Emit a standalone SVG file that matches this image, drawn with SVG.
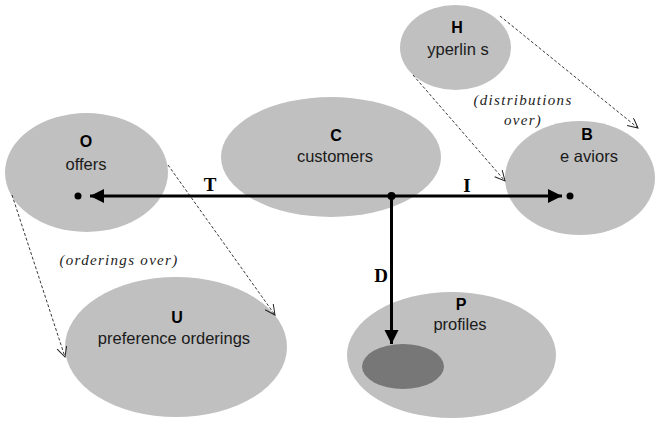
<svg xmlns="http://www.w3.org/2000/svg" width="662" height="424" viewBox="0 0 662 424">
<style>
.set{fill:#c0c0c0}
.t{font-family:"Liberation Sans",Arial,sans-serif;font-size:16.5px;fill:#1a1a1a;text-anchor:middle}
.b{font-family:"Liberation Sans",Arial,sans-serif;font-size:16px;font-weight:bold;fill:#000;text-anchor:middle}
.lab{font-family:"Liberation Serif","Times New Roman",serif;font-size:19px;font-weight:bold;fill:#000;text-anchor:middle}
.it{font-family:"Liberation Serif","Times New Roman",serif;font-size:15px;font-style:italic;fill:#222;text-anchor:middle;letter-spacing:1.3px}
.dash{fill:none;stroke:#222;stroke-width:0.9;stroke-dasharray:3 2;marker-end:url(#open)}
.thick{fill:none;stroke:#000;stroke-width:3}
</style>
<defs>
<marker id="open" markerUnits="userSpaceOnUse" markerWidth="14" markerHeight="12" refX="11" refY="5" orient="auto">
<path d="M1,0 L11,5 L1,10" fill="none" stroke="#222" stroke-width="1"/>
</marker>
<marker id="solid" markerUnits="userSpaceOnUse" markerWidth="16" markerHeight="16" refX="14" refY="8" orient="auto">
<path d="M0,1 L14,8 L0,15 Z" fill="#000"/>
</marker>
</defs>
<g id="H"><ellipse class="set" cx="455.5" cy="47.5" rx="55.5" ry="42.5"/><text class="b" x="457" y="33">H</text><text class="t" x="458" y="55">yperlin s</text></g>
<g id="O"><ellipse class="set" cx="86.5" cy="172.5" rx="81.5" ry="59.5"/><text class="b" x="86" y="147">O</text><text class="t" x="86" y="170">offers</text><circle cx="78" cy="196" r="3.5"/></g>
<g id="C"><ellipse class="set" cx="331" cy="157" rx="110" ry="60"/><text class="b" x="336" y="141">C</text><text class="t" x="335" y="162">customers</text></g>
<g id="B"><ellipse class="set" cx="580" cy="178" rx="75" ry="57"/><text class="b" x="587" y="140">B</text><text class="t" x="589" y="162">e aviors</text><circle cx="570" cy="196" r="3.5"/></g>
<g id="U"><ellipse class="set" cx="176" cy="347" rx="111" ry="70"/><text class="b" x="177" y="323">U</text><text class="t" x="174" y="344">preference orderings</text></g>
<g id="P"><ellipse class="set" cx="451.5" cy="355" rx="104.5" ry="63"/><ellipse cx="403" cy="366.5" rx="41" ry="22.5" fill="#777"/><text class="b" x="461" y="310">P</text><text class="t" x="460" y="330">profiles</text></g>
<g id="connectors">
<path class="dash" d="M413,75 L505,181"/>
<path class="dash" d="M500,16 L638,128"/>
<path class="dash" d="M12,195 L65,357"/>
<path class="dash" d="M168,165 L275,315"/>
<line class="thick" x1="391.5" y1="196" x2="90" y2="196" marker-end="url(#solid)"/>
<line class="thick" x1="391.5" y1="196" x2="562" y2="196" marker-end="url(#solid)"/>
<line class="thick" x1="391.5" y1="196" x2="391.5" y2="344" marker-end="url(#solid)"/>
<circle cx="391.5" cy="196" r="4"/>
<text class="lab" x="210" y="191">T</text>
<text class="lab" x="467" y="192">I</text>
<text class="lab" x="381" y="282">D</text>
<text class="it" x="523" y="105">(distributions</text>
<text class="it" x="523" y="125">over)</text>
<text class="it" x="119" y="265">(orderings over)</text>
</g>
</svg>
